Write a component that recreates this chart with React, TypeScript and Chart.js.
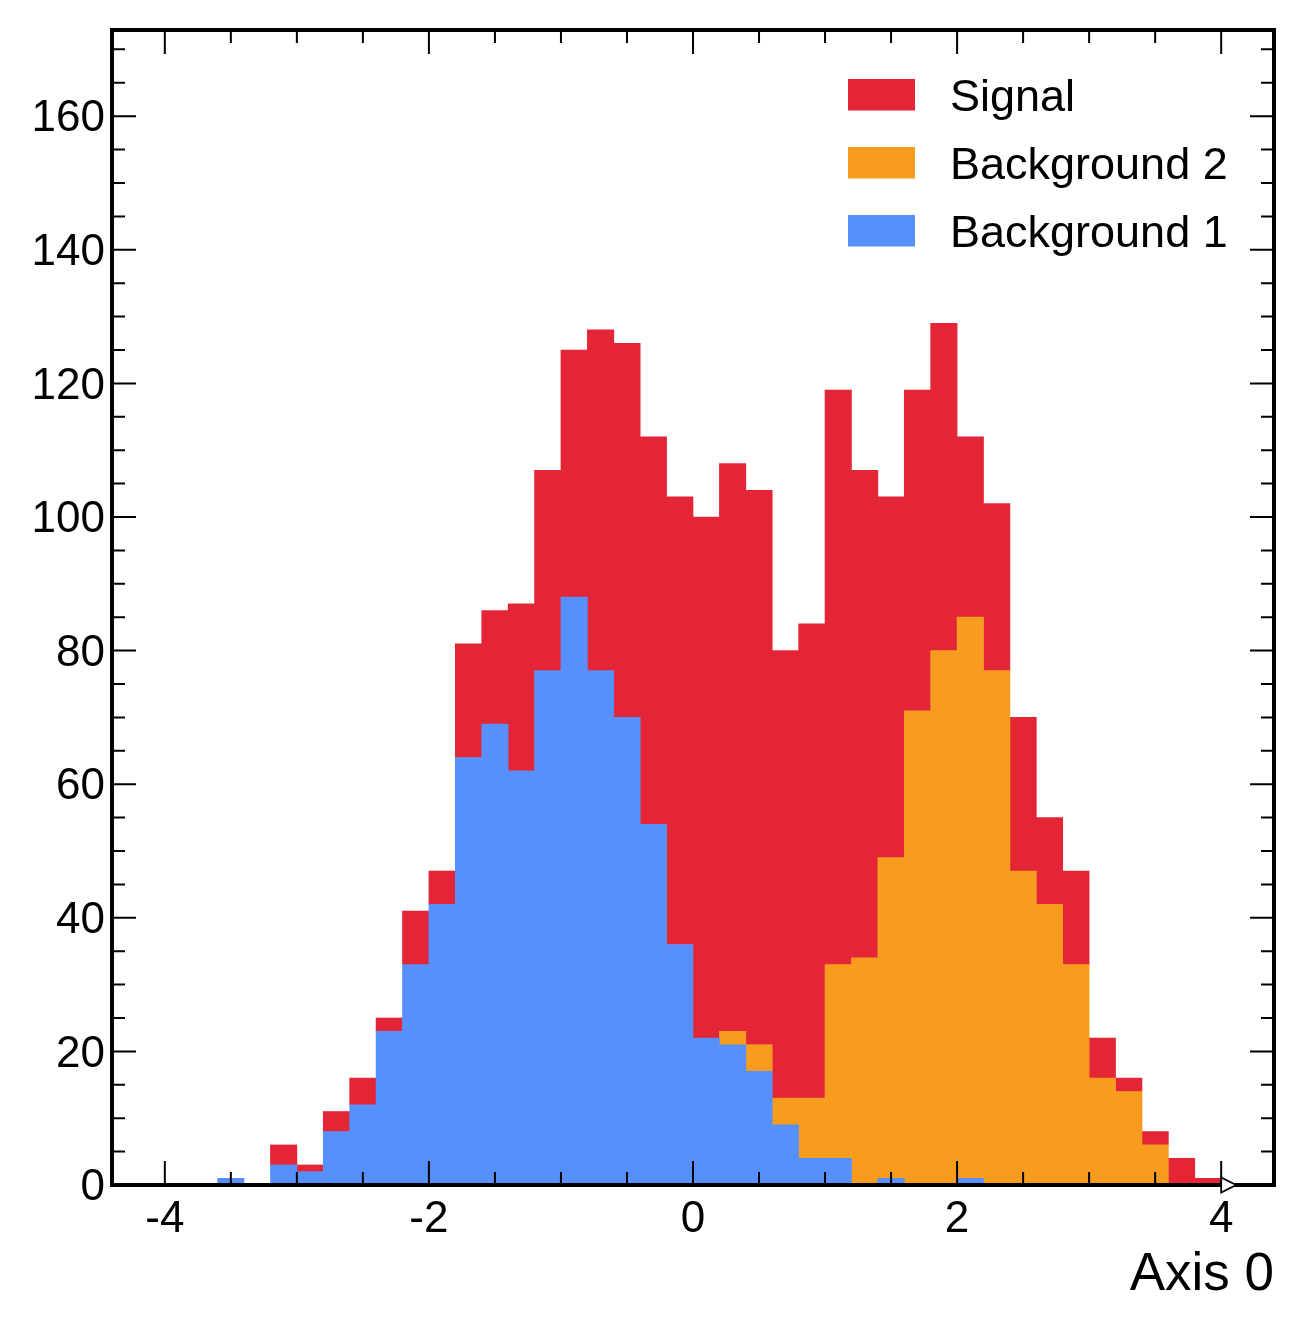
import React, { useEffect, useRef } from 'react';
import Chart from 'chart.js/auto';

// 40 bins of width 0.2 between -4 and 4
const binCenters = [
  -3.9, -3.7, -3.5, -3.3, -3.1, -2.9, -2.7, -2.5, -2.3, -2.1,
  -1.9, -1.7, -1.5, -1.3, -1.1, -0.9, -0.7, -0.5, -0.3, -0.1,
  0.1, 0.3, 0.5, 0.7, 0.9, 1.1, 1.3, 1.5, 1.7, 1.9,
  2.1, 2.3, 2.5, 2.7, 2.9, 3.1, 3.3, 3.5, 3.7, 3.9,
];
const lastBinEdge = 4;

const background1 = [
  0, 0, 1, 0, 3, 2, 8, 12, 23, 33,
  42, 64, 69, 62, 77, 88, 77, 70, 54, 36,
  22, 21, 17, 9, 4, 4, 0, 1, 0, 0,
  1, 0, 0, 0, 0, 0, 0, 0, 0, 0,
];
const background2 = [
  0, 0, 0, 0, 0, 0, 0, 0, 0, 0,
  0, 0, 0, 0, 0, 0, 0, 0, 0, 0,
  0, 2, 4, 4, 9, 29, 34, 48, 71, 80,
  84, 77, 47, 42, 33, 16, 14, 6, 0, 0,
];
const signal = [
  0, 0, 0, 0, 3, 1, 3, 4, 2, 8,
  5, 17, 17, 25, 30, 37, 51, 56, 58, 67,
  78, 85, 83, 67, 71, 86, 73, 54, 48, 49,
  27, 25, 23, 13, 14, 6, 2, 2, 4, 1,
];

const xMajorTicks = [-4, -2, 0, 2, 4];
const yMajorTicks = [0, 20, 40, 60, 80, 100, 120, 140, 160];
const xMinorStep = 0.5;
const yMinorStep = 5;

const FONT = '"Liberation Sans", Arial, Helvetica, sans-serif';

// hist-style frame: thick box, inward ticks on all four sides, overflow marker
const frameTicks = {
  id: 'frameTicks',
  afterDatasetsDraw(chart: any) {
    const { ctx, chartArea, scales } = chart;
    const { left, right, top, bottom } = chartArea;
    const x = scales.x;
    const y = scales.y;
    ctx.save();
    ctx.strokeStyle = '#000';
    ctx.lineWidth = 2;
    ctx.beginPath();
    const tickX = (v: number, len: number) => {
      const px = x.getPixelForValue(v);
      ctx.moveTo(px, bottom);
      ctx.lineTo(px, bottom - len);
      ctx.moveTo(px, top);
      ctx.lineTo(px, top + len);
    };
    const tickY = (v: number, len: number) => {
      const py = y.getPixelForValue(v);
      ctx.moveTo(left, py);
      ctx.lineTo(left + len, py);
      ctx.moveTo(right, py);
      ctx.lineTo(right - len, py);
    };
    for (let i = Math.ceil(x.min / xMinorStep); i * xMinorStep <= x.max; i++) tickX(i * xMinorStep, 13);
    for (let i = Math.ceil(y.min / yMinorStep); i * yMinorStep <= y.max; i++) tickY(i * yMinorStep, 13);
    xMajorTicks.forEach((v) => tickX(v, 24));
    yMajorTicks.forEach((v) => tickY(v, 24));
    ctx.stroke();

    ctx.lineWidth = 4;
    ctx.strokeRect(left, top, right - left, bottom - top);

    // overflow arrow at the end of the binning
    const ax = x.getPixelForValue(lastBinEdge);
    const ay = y.getPixelForValue(0);
    ctx.beginPath();
    ctx.moveTo(ax, ay - 7.5);
    ctx.lineTo(ax + 15, ay);
    ctx.lineTo(ax, ay + 7.5);
    ctx.closePath();
    ctx.fillStyle = '#fff';
    ctx.fill();
    ctx.lineWidth = 1.8;
    ctx.stroke();
    ctx.restore();
  },
  afterDraw(chart: any) {
    const { ctx, chartArea } = chart;
    const items = [...chart.data.datasets].reverse();
    ctx.save();
    ctx.font = `45px ${FONT}`;
    ctx.textBaseline = 'alphabetic';
    ctx.textAlign = 'left';
    items.forEach((ds: any, i: number) => {
      const bx = chartArea.right - 426;
      const by = chartArea.top + 49 + i * 68;
      ctx.fillStyle = ds.backgroundColor;
      ctx.fillRect(bx, by, 67, 31.5);
      ctx.fillStyle = '#000';
      ctx.fillText(ds.label, bx + 102, by + 31.5);
    });
    ctx.restore();
  },
};

const nullZero = (arr: number[]) => arr.map((v) => (v === 0 ? null : v));

const App: React.FC = () => {
  const canvasRef = useRef<HTMLCanvasElement | null>(null);
  const chartRef = useRef<Chart | null>(null);

  useEffect(() => {
    const canvas = canvasRef.current;
    if (!canvas) return;
    if (chartRef.current) chartRef.current.destroy();

    chartRef.current = new Chart(canvas, {
      type: 'bar',
      data: {
        labels: binCenters,
        datasets: [
          { label: 'Background 1', data: nullZero(background1), backgroundColor: '#5790fc' },
          { label: 'Background 2', data: nullZero(background2), backgroundColor: '#f89c20' },
          { label: 'Signal', data: nullZero(signal), backgroundColor: '#e42536' },
        ],
      },
      options: {
        responsive: false,
        animation: false,
        barPercentage: 1,
        categoryPercentage: 1,
        layout: { padding: { left: 0, right: 30, top: 30, bottom: 0 } },
        plugins: {
          legend: { display: false },
          tooltip: { enabled: false },
        },
        scales: {
          x: {
            type: 'linear',
            stacked: true,
            offset: false,
            min: -4.4,
            max: 4.4,
            grid: { display: false, drawTicks: false, offset: false },
            border: { display: false },
            afterBuildTicks: (s: any) => {
              s.ticks = xMajorTicks.map((v) => ({ value: v }));
            },
            afterFit: (s: any) => {
              s.height = 150;
              s.paddingLeft = 0;
              s.paddingRight = 0;
            },
            ticks: {
              autoSkip: false,
              maxRotation: 0,
              padding: 8,
              color: '#000',
              font: { family: FONT, size: 44, lineHeight: 1.2 },
            },
            title: {
              display: true,
              text: 'Axis 0',
              align: 'end',
              color: '#000',
              font: { family: FONT, size: 53, lineHeight: 1.2 },
              padding: { top: 0, bottom: 28 },
            },
          },
          y: {
            stacked: true,
            min: 0,
            max: 172.9,
            grid: { display: false, drawTicks: false },
            border: { display: false },
            afterBuildTicks: (s: any) => {
              s.ticks = yMajorTicks.map((v) => ({ value: v }));
            },
            afterFit: (s: any) => {
              s.width = 112;
              s.paddingTop = 0;
              s.paddingBottom = 0;
            },
            ticks: {
              autoSkip: false,
              padding: 7,
              labelOffset: 3,
              color: '#000',
              font: { family: FONT, size: 44, lineHeight: 1.2 },
            },
          },
        },
      },
      plugins: [frameTicks],
    } as any);

    return () => {
      if (chartRef.current) {
        chartRef.current.destroy();
        chartRef.current = null;
      }
    };
  }, []);

  return (
    <div style={{ position: 'absolute', left: 0, top: 0, width: 1304, height: 1335, background: '#fff' }}>
      <canvas ref={canvasRef} width={1304} height={1335} style={{ display: 'block' }} />
    </div>
  );
};

export default App;
